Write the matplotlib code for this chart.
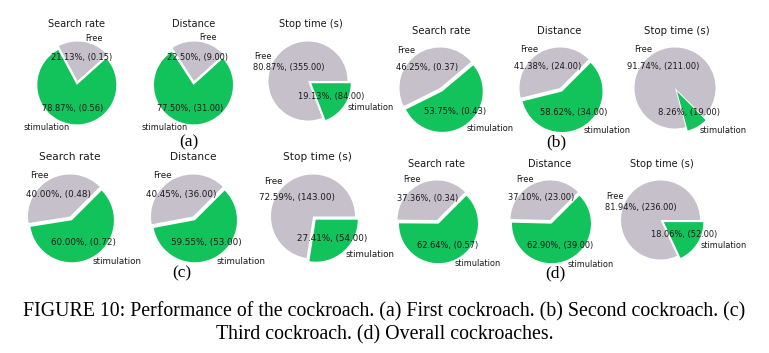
import matplotlib
matplotlib.use("Agg")
import matplotlib.pyplot as plt

# ---------------- data ----------------
labels = ["Free", "stimulation"]
metrics = ["Search rate", "Distance", "Stop time (s)"]
panel_tags = ["(a)", "(b)", "(c)", "(d)"]

search_rate = [[0.15, 0.56], [0.37, 0.43], [0.48, 0.72], [0.34, 0.57]]
distance = [[9, 31], [24, 34], [36, 53], [23, 39]]
stop_time = [[355, 84], [211, 19], [143, 54], [236, 52]]

caption_lines = ["FIGURE 10: Performance of the cockroach. (a) First cockroach. (b) Second cockroach. (c)",
                 "Third cockroach. (d) Overall cockroaches."]

# ---------------- style / layout ----------------
W, H = 769, 353
GREEN = "#12c25a"
GRAY = "#c5c0ca"

# per panel: pie centres (x, y from top, px), radius, title y, tag pos
panels = [
    dict(cx=[77.5, 194, 308], cy=81, r=39.5, ty=24, tx=[77, 194, 311], tag=(189, 142),
         start=[42, 42, 0]),
    dict(cx=[440, 560, 675], cy=88, r=40.5, ty=31.5, tx=[441, 559, 677], tag=(556, 142),
         start=[40, 45, -45]),
    dict(cx=[70, 193, 313], cy=216.5, r=42, ty=156.5, tx=[70, 193, 317], tag=(182, 273),
         start=[45, 45, 0]),
    dict(cx=[437, 550, 660.5], cy=220, r=39.5, ty=164, tx=[436, 550, 662], tag=(555, 273),
         start=[45, 45, 0]),
]

fig = plt.figure(figsize=(W / 100, H / 100), dpi=100)
fig.patch.set_facecolor("white")

all_data = [search_rate, distance, stop_time]


def make_autopct(vals):
    tot = sum(vals)

    def f(p):
        return f"{p:.2f}%, ({p * tot / 100:.2f})"
    return f


for pi, pan in enumerate(panels):
    r = pan["r"]
    scale = r / 40.0
    for mi in range(3):
        vals = all_data[mi][pi]
        cx = pan["cx"][mi]
        cy = pan["cy"]
        half = 1.35 * r
        ax = fig.add_axes([(cx - half) / W, (H - cy - half) / H, 2 * half / W, 2 * half / H])
        wedges, texts, autotexts = ax.pie(
            vals, labels=labels, colors=[GRAY, GREEN], explode=[0, 0.1],
            startangle=pan["start"][mi], autopct=make_autopct(vals),
            pctdistance=0.6, labeldistance=1.1,
            textprops=dict(fontsize=6.0 * scale, family="DejaVu Sans", color="#1a1a1a"))
        for w in wedges:
            w.set_clip_on(False)
        for t in texts + autotexts:
            t.set_clip_on(False)
        ax.set_xlim(-1.35, 1.35)
        ax.set_ylim(-1.35, 1.35)
        ax.set_aspect("equal")
        ax.axis("off")
        fig.text(pan["tx"][mi] / W, 1 - pan["ty"] / H, metrics[mi], ha="center", va="center",
                 fontsize=7.2 * scale, family="DejaVu Sans", color="#1a1a1a")
    tx, ty = pan["tag"]
    fig.text(tx / W, 1 - ty / H, panel_tags[pi], ha="center", va="center",
             fontsize=12.5, family="Liberation Serif")

for line, y in zip(caption_lines, [312, 335]):
    fig.text(0.5, 1 - y / H, line, ha="center", va="center", fontsize=14.3,
             family="Liberation Serif")

fig.savefig("out.png", dpi=100, facecolor="white")
